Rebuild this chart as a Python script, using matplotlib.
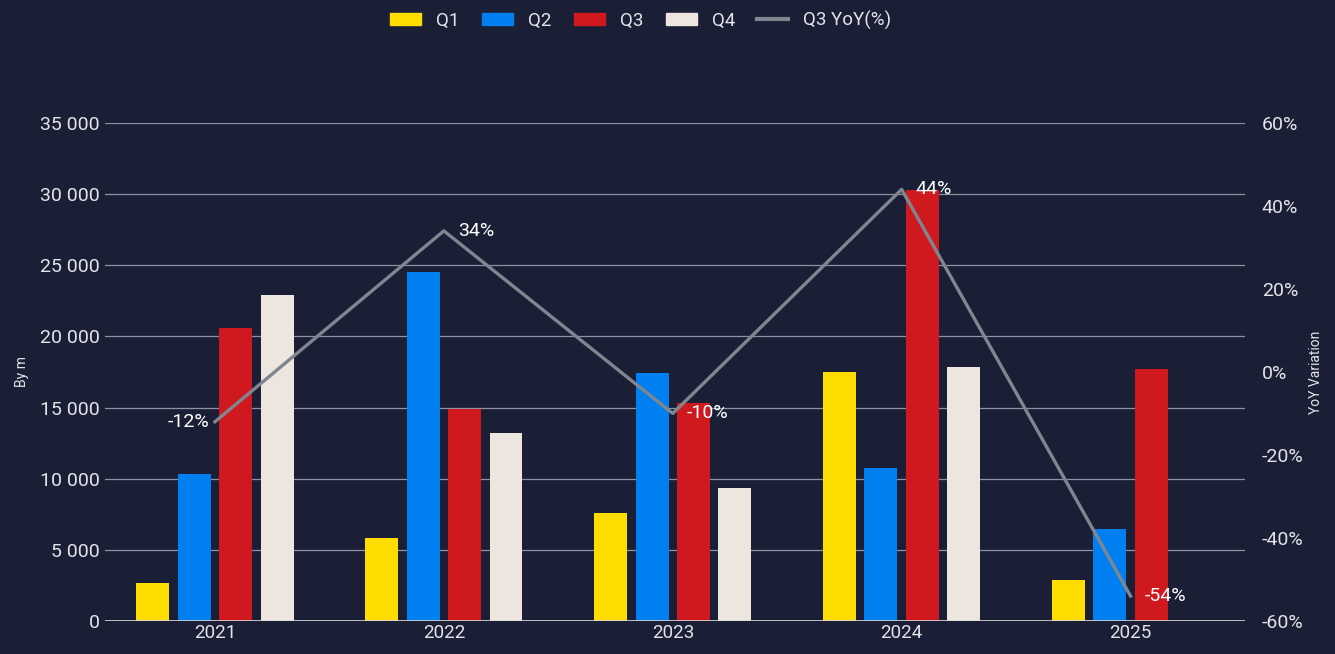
import matplotlib
matplotlib.use("Agg")
import matplotlib.pyplot as plt
import numpy as np
from matplotlib.ticker import FuncFormatter, MultipleLocator
from matplotlib.patches import Patch
from matplotlib.lines import Line2D

BG = "#1a1f36"
TXT = "#e4e4e8"
GRID = "#8d92a3"
C_Q1 = "#ffdd00"
C_Q2 = "#0080f0"
C_Q3 = "#d0191f"
C_Q4 = "#ece6df"
C_LINE = "#80868f"

years = ["2021", "2022", "2023", "2024", "2025"]
q1 = [2700, 5800, 7600, 17500, 2900]
q2 = [10300, 24500, 17400, 10750, 6450]
q3 = [20600, 14900, 15300, 30300, 17700]
q4 = [22900, 13200, 9350, 17850, 0]
q3_yoy = [-12, 34, -10, 44, -54]

plt.rcParams["font.family"] = ["Roboto", "DejaVu Sans"]

fig = plt.figure(figsize=(13.35, 6.54), dpi=100, facecolor=BG)
ax = fig.add_axes([0.0787, 0.0505, 0.8539, 0.7615])
ax.set_facecolor(BG)

x = np.arange(len(years))
step, w = 0.181, 0.144
for i, (vals, col) in enumerate(((q1, C_Q1), (q2, C_Q2), (q3, C_Q3), (q4, C_Q4))):
    ax.bar(x + (i - 1.5) * step, vals, width=w, color=col, zorder=3)

ax.set_xlim(-0.48, 4.5)
ax.set_ylim(0, 35000)
ax.yaxis.set_major_locator(MultipleLocator(5000))
ax.yaxis.set_major_formatter(FuncFormatter(lambda v, p: f"{v:,.0f}".replace(",", " ")))
ax.grid(axis="y", color=GRID, lw=0.9, zorder=0)
ax.set_axisbelow(True)
for s in ax.spines.values():
    s.set_visible(False)
ax.axhline(0, color="#d8d8dc", lw=1.2, zorder=4)
ax.set_xticks(x)
ax.set_xticklabels(years)
ax.tick_params(axis="x", length=0, colors=TXT, labelsize=13.5, pad=2)
ax.tick_params(axis="y", length=0, colors=TXT, labelsize=14, pad=4)
ax.set_ylabel("By m", color=TXT, fontsize=10, labelpad=8)

ax2 = ax.twinx()
ax2.set_ylim(-60, 60)
ax2.yaxis.set_major_locator(MultipleLocator(20))
ax2.yaxis.set_major_formatter(FuncFormatter(lambda v, p: f"{v:.0f}%"))
for s in ax2.spines.values():
    s.set_visible(False)
ax2.tick_params(axis="y", length=0, colors=TXT, labelsize=14, pad=12)
ax2.set_ylabel("YoY Variation", color=TXT, fontsize=10, labelpad=4)
ax2.plot(x, q3_yoy, color=C_LINE, lw=2.4, zorder=5)
for xi, v in zip(x, q3_yoy):
    if xi == 0:
        ax2.annotate(f"{v}%", (xi, v), xytext=(-4, 0), textcoords="offset points",
                     ha="right", va="center", color="white", fontsize=14)
    else:
        ax2.annotate(f"{v}%", (xi, v), xytext=(10, 0), textcoords="offset points",
                     ha="left", va="center", color="white", fontsize=14)

handles = [Patch(color=C_Q1), Patch(color=C_Q2), Patch(color=C_Q3), Patch(color=C_Q4),
           Line2D([], [], color=C_LINE, lw=3)]
labels = ["Q1", "Q2", "Q3", "Q4", "Q3 YoY(%)"]
leg = fig.legend(handles, labels, loc="center", bbox_to_anchor=(0.48, 0.969), ncol=5,
                 frameon=False, fontsize=13.5, handlelength=1.65, handleheight=0.55,
                 handletextpad=0.8, columnspacing=1.2)
for t in leg.get_texts():
    t.set_color(TXT)

fig.savefig("out.png", dpi=100, facecolor=BG)
